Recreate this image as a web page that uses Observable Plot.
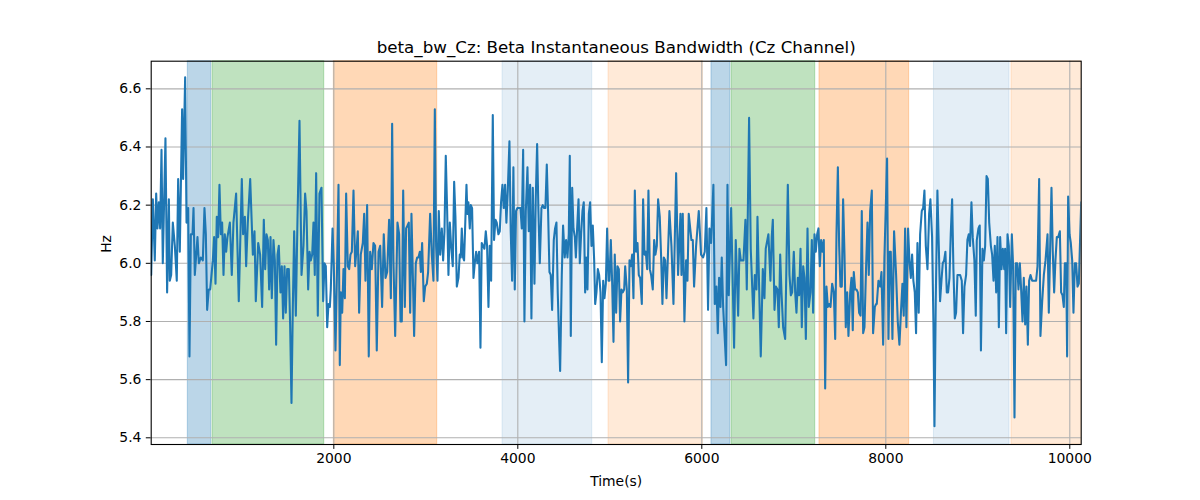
<!DOCTYPE html>
<html><head><meta charset="utf-8">
<script src="https://cdn.jsdelivr.net/npm/d3@7"></script>
<script src="https://cdn.jsdelivr.net/npm/@observablehq/plot@0.6"></script>
<style>body{margin:0;background:#fff}</style>
</head><body><div id="chart"></div>
<script>
const title = "beta_bw_Cz: Beta Instantaneous Bandwidth (Cz Channel)";
const xLabel = "Time(s)";
const yLabel = "Hz";
const xTicks = [2000, 4000, 6000, 8000, 10000];
const yTicks = [5.4, 5.6, 5.8, 6.0, 6.2, 6.4, 6.6];
const xDomain = [15, 10124];
const yDomain = [5.377, 6.695];

const spanStart = [413, 682, 2000, 3834, 4986, 6105, 6323, 7279, 8523, 9366];
const spanEnd   = [667, 1896, 3124, 4809, 6011, 6309, 7233, 8254, 9345, 10124];
const spanColor = ["#1f77b4", "#2ca02c", "#ff7f0e", "#1f77b4", "#ff7f0e", "#1f77b4", "#2ca02c", "#ff7f0e", "#1f77b4", "#ff7f0e"];
const spanAlpha = [0.3, 0.3, 0.3, 0.12, 0.16, 0.3, 0.3, 0.3, 0.12, 0.16];

const time = [
15,33,54,69,83,98,112,127,141,170,188,207,217,232,250,272,293,308,326,351,362,384,399,417,431,446,464,475,489,518,533,554,576,594,609,623,641,656,685,699,714,728,743,757,772,786,801,815,830,844,870,891,909,938,967,1000,1014,1033,1047,1065,1091,1120,
1138,1152,1178,1199,1221,1239,1254,1268,1283,1297,1312,1326,1344,1359,1373,1388,1402,1420,1435,1449,1464,1478,1493,1511,1525,1540,1554,1569,1587,1605,1627,1649,1670,1688,1703,1721,1736,1750,1765,1779,1793,1808,1826,1844,1866,1884,1899,1913,1928,1942,1957,1967,1986,2000,2018,2036,2051,2065,2076,2091,2105,2120,2134,2152,2167,2181,2196,2214,2232,2250,
2261,2275,2293,2315,2330,2344,2362,2380,2395,2413,2431,2449,2467,2486,2504,2525,2543,2562,2580,2601,2620,2634,2648,2667,2692,2710,2725,2739,2754,2772,2786,2801,2815,2830,2844,2859,2873,2891,2906,2920,2935,2946,2960,2978,2993,3011,3025,3047,3065,3083,3098,3112,3127,3141,3156,3174,3188,3203,3217,3232,3246,3261,3275,3293,3308,3322,3337,3355,3369,3380,
3391,3405,3416,3427,3442,3452,3463,3478,3489,3503,3518,3532,3547,3561,3579,3594,3608,3623,3637,3652,3666,3681,3695,3710,3728,3742,3757,3771,3789,3804,3818,3833,3847,3862,3876,3891,3909,3923,3938,3952,3967,3981,3996,4014,4029,4043,4058,4072,4087,4105,4119,4134,4148,4163,4181,4195,4210,4224,4239,4257,4271,4286,4300,4315,4329,4344,4358,4373,4391,4405,4420,4434,4449,4460,4478,4492,4510,
4525,4540,4554,4565,4576,4591,4605,4620,4631,4645,4660,4674,4688,4703,4717,4732,4743,4757,4772,4786,4801,4815,4830,4841,4855,4870,4884,4899,4913,4928,4942,4957,4971,4986,4996,5011,5025,5040,5054,5069,5083,5098,5112,5127,5141,5156,5167,5185,5199,5214,5228,5243,5257,5272,5286,5301,5315,5330,5348,5362,5377,5391,5406,5420,5435,5449,5467,5482,5496,5511,5525,5543,5558,5572,5587,5602,5616,
5648,5670,5692,5721,5742,5768,5779,5793,5811,5829,5844,5858,5887,5902,5916,5938,5967,5992,6014,6032,6050,6068,6083,6101,6126,6141,6159,6174,6188,6203,6217,6232,6264,6279,6293,6319,6351,6369,6395,6409,6424,6453,6474,6489,6514,6532,6561,6576,6594,6605,6641,6663,6681,6695,6724,6746,6760,
6772,6790,6805,6823,6837,6852,6866,6884,6906,6935,6953,6968,6982,7000,7015,7029,7044,7058,7073,7087,7102,7116,7131,7149,7163,7181,7196,7210,7225,7239,7254,7268,7283,7297,7312,7326,7341,7355,7370,7384,7399,7417,7435,7450,7464,7479,7493,7507,7522,7536,7551,7565,7580,7594,7613,7627,7641,7652,7667,7681,7696,7710,7725,7739,7754,7768,7786,7801,7815,7830,7848,7862,7881,7895,
7902,7920,7938,7953,7971,7985,8014,8029,8043,8054,8072,8090,8112,8130,8148,8166,8181,8195,8210,8224,8242,8257,8272,8286,8300,8315,8329,8344,8358,8373,8391,8406,8420,8435,8453,8471,8485,8503,8518,8529,8543,8561,8576,8590,8605,8619,8634,8648,8663,8677,8692,8706,8721,8735,8750,8764,8779,8793,8808,8826,8840,8855,8873,8887,8902,8916,8931,8945,8963,8978,8989,9007,9021,9034,
9051,9066,9080,9095,9109,9124,9142,9156,9171,9185,9200,9214,9229,9243,9258,9272,9287,9297,9308,9323,9337,9352,9370,9384,9399,9413,9428,9442,9457,9471,9486,9500,9515,9529,9544,9558,9573,9591,9613,9634,9649,9667,9681,9700,9718,9736,9758,9772,9787,9801,9815,9830,9844,9859,9874,9892,9906,9921,9935,9946,9961,9971,9982,9997,10011,10026,10040,10055,10069,10084,10098,10124
];
const hz = [
5.96,6.22,6.01,6.24,6.12,6.21,6.12,6.39,6.00,6.43,5.90,6.22,5.94,5.96,6.14,6.06,5.94,6.29,6.04,6.53,6.29,6.64,6.14,6.19,5.68,6.10,6.10,6.19,5.96,6.09,6.00,6.02,6.01,6.19,6.10,5.84,5.91,5.91,6.01,6.09,5.93,6.16,6.09,6.27,6.10,6.14,5.96,6.10,6.04,6.09,6.14,5.96,6.14,6.24,5.87,6.29,6.10,6.16,5.99,6.14,6.29,6.03,
6.11,5.87,6.07,6.03,5.85,6.15,5.98,6.10,6.08,5.91,6.09,5.88,6.08,6.01,5.72,6.03,6.06,5.90,5.99,5.81,5.99,5.83,5.98,5.98,5.79,5.52,5.84,6.11,5.82,6.15,6.49,5.96,6.06,6.24,6.18,5.91,6.04,6.01,6.03,6.14,5.96,6.31,5.82,6.24,6.26,5.87,6.00,5.99,5.78,5.86,5.85,5.91,6.12,5.99,5.70,6.00,6.27,5.65,5.90,5.83,5.98,5.88,6.24,5.99,5.98,6.03,6.04,6.25,5.99,6.06,
6.11,5.83,6.03,6.07,6.17,5.94,6.20,5.68,6.04,5.98,6.07,6.06,5.70,6.04,6.06,5.85,6.10,5.95,5.97,6.15,5.88,6.48,6.01,5.75,6.14,6.10,5.80,5.80,6.25,5.85,6.12,6.13,6.14,5.83,6.17,5.96,5.75,6.00,6.02,6.02,6.04,5.97,6.07,5.87,5.92,5.93,5.97,6.17,6.03,5.94,6.53,6.06,5.94,6.18,6.03,6.12,6.01,6.11,6.37,6.18,5.96,6.14,6.06,5.99,6.28,6.16,5.92,5.95,6.03,6.02,
6.12,6.02,6.01,6.12,6.27,6.17,6.21,6.12,6.20,6.19,5.95,6.00,6.04,6.00,6.04,5.71,6.07,6.06,6.05,6.11,6.06,5.85,6.06,5.94,6.51,6.08,6.15,6.14,6.10,6.11,6.21,6.27,6.19,6.27,6.14,6.25,6.42,6.11,5.94,6.33,5.91,6.18,6.19,6.19,6.19,6.12,6.39,5.80,6.18,6.33,6.11,6.27,5.81,6.26,5.93,6.22,6.41,6.18,6.00,6.19,6.20,6.19,6.19,6.34,6.18,5.97,5.96,5.84,6.08,6.12,6.14,5.90,5.74,5.63,5.96,6.13,6.02,
6.08,6.02,6.10,6.37,5.75,6.26,6.12,6.09,6.02,6.12,6.22,6.00,6.10,6.18,6.21,5.90,6.02,5.91,6.17,6.21,6.06,6.13,6.01,5.86,5.90,5.98,5.96,5.90,5.66,5.94,5.88,5.93,6.12,5.94,5.94,6.08,5.94,5.73,6.03,5.83,5.99,5.98,5.80,5.91,5.90,5.91,5.99,5.91,5.59,6.01,5.99,6.03,5.88,6.25,6.04,6.07,5.96,5.95,5.86,6.22,6.03,6.04,5.98,6.25,5.98,5.96,5.91,6.08,6.03,6.06,6.22,6.16,6.02,5.86,6.02,6.01,5.88,
6.18,6.06,5.86,6.31,5.96,6.17,5.96,6.17,5.80,6.01,5.94,6.17,6.08,6.08,5.92,6.06,6.18,6.03,6.02,6.04,6.19,5.84,6.12,6.07,6.27,5.86,5.92,5.76,5.95,5.85,6.02,5.85,5.65,6.27,5.89,6.19,5.71,6.08,5.82,6.05,6.01,6.01,6.15,5.91,6.50,6.05,5.81,5.96,5.91,6.16,5.68,5.98,5.88,6.05,6.10,5.94,6.09,
6.15,5.84,5.92,5.91,5.78,6.03,5.90,5.78,5.74,6.27,5.96,5.89,5.90,6.04,5.90,5.83,5.95,5.89,6.05,5.78,5.99,5.95,5.74,6.12,5.85,5.90,6.08,5.83,6.10,6.04,6.10,6.12,5.99,6.08,6.04,6.08,5.57,5.92,5.85,5.86,5.85,5.93,5.90,5.74,6.10,6.33,6.06,5.92,5.92,6.22,6.03,5.78,5.90,5.75,5.90,5.95,5.77,5.97,5.91,5.91,5.90,5.83,5.82,6.18,5.76,5.78,5.99,6.14,5.96,6.18,6.25,5.76,5.85,5.86,
5.86,5.94,5.92,5.97,5.72,6.02,6.36,5.74,6.04,6.04,5.74,6.11,5.96,5.80,5.72,5.84,5.93,5.82,6.12,5.78,6.12,6.01,5.95,6.03,5.94,5.90,5.76,6.07,5.83,6.10,6.18,6.19,6.25,6.06,5.98,6.17,6.22,6.09,5.79,5.44,5.87,6.25,6.06,5.87,5.94,6.00,6.01,6.04,5.90,5.90,5.95,6.10,6.22,5.98,5.81,5.83,5.96,5.96,5.96,5.94,5.76,5.92,5.96,6.08,6.10,6.06,6.21,6.09,6.01,5.82,6.08,6.12,6.13,5.70,
6.05,6.01,6.06,6.30,6.29,6.14,6.06,6.03,5.94,6.06,5.90,6.09,5.78,6.09,5.98,6.05,5.98,6.05,5.76,6.10,6.06,5.85,6.10,5.99,5.47,6.00,6.00,5.91,6.00,5.91,5.80,5.95,5.79,5.92,5.72,5.94,5.96,5.94,5.94,5.94,5.99,6.29,5.75,5.87,5.96,6.01,6.10,5.83,6.06,6.26,6.04,5.90,6.01,6.09,6.09,6.11,5.90,5.89,5.85,6.00,6.00,5.68,6.23,6.10,6.07,6.01,5.83,6.00,6.00,5.92,5.93,6.21
];

const n = Math.min(time.length, hz.length);
const samples = d3.range(n).map(i => ({t: time[i], v: hz[i]}));
const spans = spanStart.map((s, i) => ({x1: s, x2: spanEnd[i], color: spanColor[i], alpha: spanAlpha[i]}));

const font = "DejaVu Sans, sans-serif";
const chart = Plot.plot({
  width: 1200,
  height: 500,
  marginLeft: 150.7,
  marginRight: 119.3,
  marginTop: 60.7,
  marginBottom: 56,
  style: {fontFamily: font, fontSize: "13.9px", color: "black", background: "white", overflow: "visible"},
  x: {domain: xDomain, ticks: xTicks, tickFormat: d => String(d), tickSize: 4.9, tickPadding: 4.2, label: null},
  y: {domain: yDomain, ticks: yTicks, tickFormat: d3.format(".1f"), tickSize: 4.9, tickPadding: 4.9, label: null},
  marks: [
    ...spans.map(s => Plot.rect([s], {x1: "x1", x2: "x2", fill: s.color, fillOpacity: s.alpha, stroke: s.color, strokeOpacity: s.alpha, strokeWidth: 1})),
    Plot.ruleX(xTicks, {stroke: "#b0b0b0", strokeWidth: 1.1}),
    Plot.ruleY(yTicks, {stroke: "#b0b0b0", strokeWidth: 1.1}),
    Plot.line(samples, {x: "t", y: "v", stroke: "#1f77b4", strokeWidth: 2.08, strokeLinejoin: "round", clip: true}),
    Plot.frame({stroke: "black", strokeWidth: 1.1}),
    Plot.text([title], {frameAnchor: "top", dy: -8.3, lineAnchor: "bottom", fontSize: 16.7, fill: "black"}),
    Plot.text([xLabel], {frameAnchor: "bottom", dy: 37, lineAnchor: "middle", fontSize: 13.9, fill: "black"}),
    Plot.text([yLabel], {frameAnchor: "left", dx: -45, rotate: -90, lineAnchor: "middle", fontSize: 13.9, fill: "black"})
  ]
});
document.getElementById("chart").appendChild(chart);
</script>
</body></html>
